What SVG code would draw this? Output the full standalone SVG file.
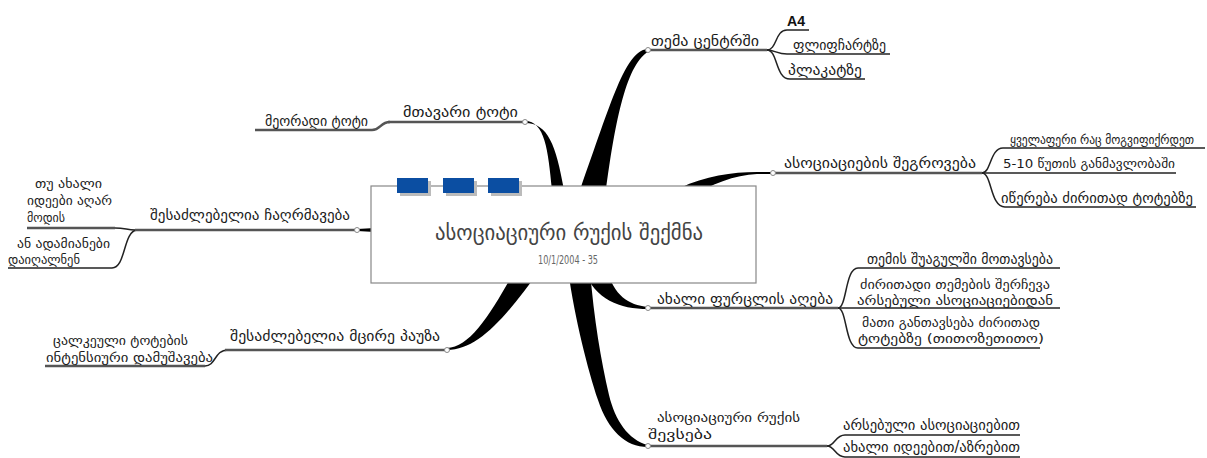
<svg xmlns="http://www.w3.org/2000/svg" width="1207" height="458" viewBox="0 0 1207 458">
<style>
.lbl{font-family:"DejaVu Sans Condensed","DejaVu Sans",sans-serif;font-size:15px;fill:#1a1a1a}
.sm{font-size:12.5px}
.xs{font-size:12px}
.ttl{font-family:"DejaVu Sans Condensed","DejaVu Sans",sans-serif;font-size:22px;fill:#444}
.date{font-family:"Liberation Sans Narrow","DejaVu Sans Condensed",sans-serif;font-size:12px;fill:#666}
.a4{font-family:"Liberation Sans Narrow","Liberation Sans",sans-serif;font-size:15px;font-weight:bold;fill:#111}
.main{stroke:#555;stroke-width:2.5;fill:none}
.sub{stroke:#222;stroke-width:1.5;fill:none}
.wedge{fill:#000}
.dot{fill:#fff;stroke:#888;stroke-width:1}
.blue{fill:#0b4ea2}
.shadow{fill:#bbb}
</style>
<rect width="1207" height="458" fill="#fff"/>
<g id="connectors">
  <path class="wedge" d="M525,121 C545,121 548,150 552,190 L575,190 L564,190 C556,145 548,123 525,123 Z"/>
  <path class="wedge" d="M647,49 C625,52 612,100 580,190 L606,190 C614,130 625,65 648,52 Z"/>
  <path class="wedge" d="M773,172 L757,172 C732,172 705,176 680,188 L690,198 C710,184 735,175 757,174 L773,174 Z"/>
  <path class="wedge" d="M648,307 C628,305 614,295 607,270 L584,270 C595,300 620,309 648,309 Z"/>
  <path class="wedge" d="M648,445 C628,440 615,420 609,395 C601,360 594,320 590,270 L568,270 C575,320 588,370 598,400 C608,430 625,447 648,447 Z"/>
  <path class="wedge" d="M447,348 C470,348 492,312 515,270 L540,270 C505,318 478,350 447,350 Z"/>
  <path class="wedge" d="M357,229 L375,228 L375,232 L357,231 Z"/>
  <path class="sub" d="M767,50 C777,50 775,30 787,30"/>
  <path class="sub" d="M767,50 C775,50 777,54 787,54"/>
  <path class="sub" d="M767,50 C778,50 775,79 790,79"/>
  <path class="sub" d="M982,173 C991,173 990,148 1003,148"/>
  <path class="sub" d="M982,173 C992,173 990,207 1005,207"/>
  <path class="sub" d="M838,308 C847,308 845,268 858,268"/>
  <path class="sub" d="M838,308 C847,308 845,348 858,348"/>
  <path class="sub" d="M827,446 C835,446 835,435 845,435"/>
  <path class="sub" d="M827,446 C835,446 835,457 845,457"/>
  <path class="main" d="M372,130 C381,130 380,122 390,122"/>
  <path class="sub" d="M115,228 C125,228 127,230 135,230"/>
  <path class="sub" d="M112,268 C126,268 123,231 137,230"/>
  <path class="sub" d="M205,366 C216,366 214,350 228,350"/>
</g>
<g id="center">
  <rect x="371" y="186" width="385" height="97" fill="#fff" stroke="#888" stroke-width="1.2"/>
  <rect class="shadow" x="400" y="181" width="31" height="15"/>
  <rect class="shadow" x="446" y="181" width="31" height="15"/>
  <rect class="shadow" x="491" y="181" width="31" height="15"/>
  <rect class="blue" x="397" y="178" width="31" height="15"/>
  <rect class="blue" x="443" y="178" width="31" height="15"/>
  <rect class="blue" x="488" y="178" width="31" height="15"/>
  <text class="ttl" x="435" y="240" textLength="268" lengthAdjust="spacingAndGlyphs">ასოციაციური რუქის შექმნა</text>
  <text class="date" x="538" y="264" textLength="60" lengthAdjust="spacingAndGlyphs">10/1/2004 - 35</text>
</g>
<g id="n-tema">
  <line class="main" x1="648" y1="50" x2="767" y2="50"/>
  <circle class="dot" cx="648" cy="50" r="2.5"/>
  <text class="lbl" x="651" y="46" textLength="108" lengthAdjust="spacingAndGlyphs">თემა ცენტრში</text>
</g>
<g id="n-a4">
  <line class="sub" x1="787" y1="30" x2="809" y2="30"/>
  <text class="a4" x="787" y="26" textLength="18" lengthAdjust="spacingAndGlyphs">A4</text>
</g>
<g id="n-flip">
  <line class="sub" x1="787" y1="54" x2="890" y2="54"/>
  <text class="lbl" x="793" y="50" textLength="93" lengthAdjust="spacingAndGlyphs">ფლიფჩარტზე</text>
</g>
<g id="n-plak">
  <line class="sub" x1="790" y1="79" x2="865" y2="79"/>
  <text class="lbl" x="788" y="75" textLength="74" lengthAdjust="spacingAndGlyphs">პლაკატზე</text>
</g>
<g id="n-shegroveba">
  <line class="main" x1="773" y1="173" x2="982" y2="173"/>
  <circle class="dot" cx="773" cy="173" r="2.5"/>
  <text class="lbl" x="784" y="168" textLength="192" lengthAdjust="spacingAndGlyphs">ასოციაციების შეგროვება</text>
</g>
<g id="n-yvelaferi">
  <line class="sub" x1="1003" y1="148" x2="1205" y2="148"/>
  <text class="lbl xs" x="1010" y="144" textLength="184" lengthAdjust="spacingAndGlyphs">ყველაფერი რაც მოგვიფიქრდეთ</text>
</g>
<g id="n-5-10">
  <line class="sub" x1="982" y1="173" x2="1176" y2="173"/>
  <text class="lbl sm" x="1003" y="168" textLength="172" lengthAdjust="spacingAndGlyphs">5-10 წუთის განმავლობაში</text>
</g>
<g id="n-itsereba">
  <line class="sub" x1="1005" y1="207" x2="1196" y2="207"/>
  <text class="lbl" x="1001" y="203" textLength="192" lengthAdjust="spacingAndGlyphs">იწერება ძირითად ტოტებზე</text>
</g>
<g id="n-mtavari">
  <line class="main" x1="388" y1="122" x2="525" y2="122"/>
  <circle class="dot" cx="525" cy="122" r="2.5"/>
  <text class="lbl" x="403" y="117" textLength="115" lengthAdjust="spacingAndGlyphs">მთავარი ტოტი</text>
</g>
<g id="n-meoradi">
  <line class="main" x1="255" y1="130" x2="372" y2="130"/>
  <text class="lbl" x="265" y="126" textLength="103" lengthAdjust="spacingAndGlyphs">მეორადი ტოტი</text>
</g>
<g id="n-chaghrmaveba">
  <line class="main" x1="135" y1="230" x2="357" y2="230"/>
  <circle class="dot" cx="357" cy="230" r="2.5"/>
  <text class="lbl" x="150" y="220" textLength="200" lengthAdjust="spacingAndGlyphs">შესაძლებელია ჩაღრმავება</text>
</g>
<g id="n-tu-akhali">
  <line class="main" x1="27" y1="228" x2="115" y2="228"/>
  <text class="lbl sm" x="35" y="188" textLength="67" lengthAdjust="spacingAndGlyphs">თუ ახალი</text>
  <text class="lbl sm" x="27" y="205" textLength="85" lengthAdjust="spacingAndGlyphs">იდეები აღარ</text>
  <text class="lbl sm" x="27" y="222" textLength="38" lengthAdjust="spacingAndGlyphs">მოდის</text>
</g>
<g id="n-an-adamianebi">
  <line class="sub" x1="8" y1="268" x2="112" y2="268"/>
  <text class="lbl sm" x="17" y="248" textLength="93" lengthAdjust="spacingAndGlyphs">ან ადამიანები</text>
  <text class="lbl sm" x="8" y="264" textLength="72" lengthAdjust="spacingAndGlyphs">დაიღალნენ</text>
</g>
<g id="n-pauza">
  <line class="main" x1="225" y1="350" x2="447" y2="350"/>
  <circle class="dot" cx="447" cy="350" r="2.5"/>
  <text class="lbl" x="230" y="341" textLength="210" lengthAdjust="spacingAndGlyphs">შესაძლებელია მცირე პაუზა</text>
</g>
<g id="n-tsalkeuli">
  <line class="main" x1="45" y1="366" x2="205" y2="366"/>
  <text class="lbl sm" x="53" y="345" textLength="135" lengthAdjust="spacingAndGlyphs">ცალკეული ტოტების</text>
  <text class="lbl sm" x="46" y="362" textLength="167" lengthAdjust="spacingAndGlyphs">ინტენსიური დამუშავება</text>
</g>
<g id="n-purtseli">
  <line class="main" x1="648" y1="308" x2="838" y2="308"/>
  <circle class="dot" cx="648" cy="308" r="2.5"/>
  <text class="lbl" x="657" y="304" textLength="176" lengthAdjust="spacingAndGlyphs">ახალი ფურცლის აღება</text>
</g>
<g id="n-shuagul">
  <line class="sub" x1="858" y1="268" x2="1060" y2="268"/>
  <text class="lbl" x="867" y="264" textLength="186" lengthAdjust="spacingAndGlyphs">თემის შუაგულში მოთავსება</text>
</g>
<g id="n-shercheva">
  <line class="sub" x1="838" y1="308" x2="1060" y2="308"/>
  <text class="lbl sm" x="860" y="289" textLength="190" lengthAdjust="spacingAndGlyphs">ძირითადი თემების შერჩევა</text>
  <text class="lbl sm" x="857" y="305" textLength="196" lengthAdjust="spacingAndGlyphs">არსებული ასოციაციებიდან</text>
</g>
<g id="n-ganTavseba">
  <line class="sub" x1="858" y1="348" x2="1040" y2="348"/>
  <text class="lbl sm" x="862" y="327" textLength="178" lengthAdjust="spacingAndGlyphs">მათი განთავსება ძირითად</text>
  <text class="lbl sm" x="858" y="343" textLength="186" lengthAdjust="spacingAndGlyphs">ტოტებზე (თითოზეთითო)</text>
</g>
<g id="n-shevseba">
  <line class="main" x1="648" y1="446" x2="827" y2="446"/>
  <circle class="dot" cx="648" cy="446" r="2.5"/>
  <text class="lbl sm" x="657" y="422" textLength="143" lengthAdjust="spacingAndGlyphs">ასოციაციური რუქის</text>
  <text class="lbl sm" x="648" y="439" textLength="64" lengthAdjust="spacingAndGlyphs">შევსება</text>
</g>
<g id="n-arsebuli">
  <line class="sub" x1="845" y1="435" x2="1020" y2="435"/>
  <text class="lbl" x="843" y="430" textLength="177" lengthAdjust="spacingAndGlyphs">არსებული ასოციაციებით</text>
</g>
<g id="n-akhali-ideebi">
  <line class="sub" x1="845" y1="457" x2="1020" y2="457"/>
  <text class="lbl" x="843" y="452" textLength="177" lengthAdjust="spacingAndGlyphs">ახალი იდეებით/აზრებით</text>
</g>
</svg>
